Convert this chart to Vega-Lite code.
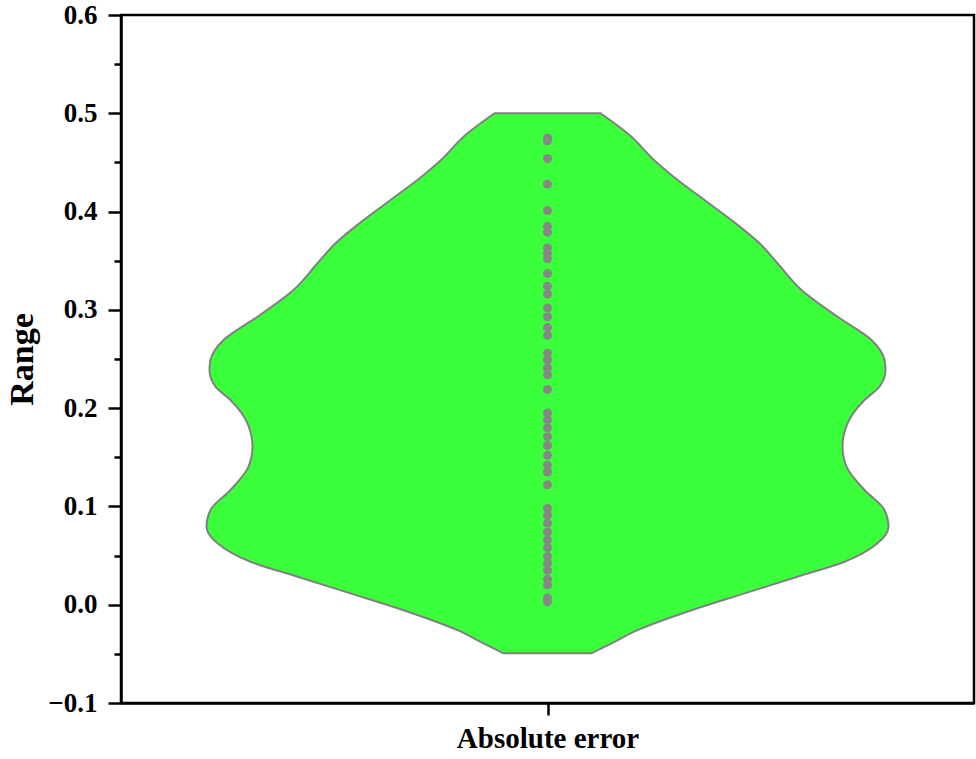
{
  "$schema": "https://vega.github.io/schema/vega-lite/v6.json",
  "width": 853,
  "height": 688,
  "autosize": "none",
  "padding": {"left": 121, "top": 15, "right": 2, "bottom": 56},
  "background": "white",
  "config": {
    "font": "Liberation Serif",
    "view": {"stroke": "black", "strokeWidth": 2.5}
  },
  "datasets": {
    "violin": [
      {"range": -0.0495, "lo": -44, "hi": 44},
      {"range": -0.0393, "lo": -64, "hi": 64},
      {"range": -0.0259, "lo": -90, "hi": 90},
      {"range": -0.0056, "lo": -144, "hi": 144},
      {"range": 0.0115, "lo": -197, "hi": 197},
      {"range": 0.0285, "lo": -250, "hi": 250},
      {"range": 0.0437, "lo": -297, "hi": 297},
      {"range": 0.0625, "lo": -330, "hi": 330},
      {"range": 0.0794, "lo": -341, "hi": 341},
      {"range": 0.0964, "lo": -337, "hi": 337},
      {"range": 0.1167, "lo": -317, "hi": 317},
      {"range": 0.1405, "lo": -299, "hi": 299},
      {"range": 0.1608, "lo": -295, "hi": 295},
      {"range": 0.1846, "lo": -300, "hi": 300},
      {"range": 0.2083, "lo": -317, "hi": 317},
      {"range": 0.2218, "lo": -332, "hi": 332},
      {"range": 0.2388, "lo": -338, "hi": 338},
      {"range": 0.249, "lo": -337, "hi": 337},
      {"range": 0.2693, "lo": -324, "hi": 324},
      {"range": 0.293, "lo": -290, "hi": 290},
      {"range": 0.3202, "lo": -254, "hi": 254},
      {"range": 0.3474, "lo": -230, "hi": 230},
      {"range": 0.3677, "lo": -212, "hi": 212},
      {"range": 0.3881, "lo": -188, "hi": 188},
      {"range": 0.4118, "lo": -157, "hi": 157},
      {"range": 0.4355, "lo": -126, "hi": 126},
      {"range": 0.4491, "lo": -110, "hi": 110},
      {"range": 0.4796, "lo": -80, "hi": 80},
      {"range": 0.5, "lo": -53, "hi": 53}
    ],
    "points": [
      {"error": 0.475}, {"error": 0.472}, {"error": 0.454}, {"error": 0.428},
      {"error": 0.401}, {"error": 0.385}, {"error": 0.379}, {"error": 0.363},
      {"error": 0.358}, {"error": 0.352}, {"error": 0.337}, {"error": 0.324},
      {"error": 0.316}, {"error": 0.302}, {"error": 0.293}, {"error": 0.282},
      {"error": 0.274}, {"error": 0.256}, {"error": 0.249}, {"error": 0.241},
      {"error": 0.234}, {"error": 0.219}, {"error": 0.195}, {"error": 0.188},
      {"error": 0.18}, {"error": 0.171}, {"error": 0.162}, {"error": 0.152},
      {"error": 0.142}, {"error": 0.135}, {"error": 0.122}, {"error": 0.098},
      {"error": 0.091}, {"error": 0.083}, {"error": 0.074}, {"error": 0.066},
      {"error": 0.058}, {"error": 0.049}, {"error": 0.042}, {"error": 0.035},
      {"error": 0.026}, {"error": 0.02}, {"error": 0.007}, {"error": 0.003}
    ]
  },
  "layer": [
    {
      "data": {"name": "violin"},
      "mark": {
        "type": "area",
        "orient": "horizontal",
        "interpolate": "monotone",
        "fill": "#3aff3a",
        "fillOpacity": 1,
        "stroke": "#808080",
        "strokeWidth": 2
      },
      "encoding": {
        "y": {
          "field": "range",
          "type": "quantitative",
          "scale": {"domain": [-0.1, 0.6], "nice": false, "zero": false},
          "axis": {
            "title": "Range",
            "values": [-0.1, -0.05, 0, 0.05, 0.1, 0.15, 0.2, 0.25, 0.3, 0.35, 0.4, 0.45, 0.5, 0.55, 0.6],
            "format": ".1f",
            "labelExpr": "round(datum.value * 20) % 2 == 0 ? datum.label : ''",
            "tickSize": {"condition": {"test": "round(datum.value * 20) % 2 == 0", "value": 13}, "value": 7},
            "tickWidth": 2.5,
            "tickColor": "black",
            "domainColor": "black",
            "domainWidth": 2.5,
            "grid": false,
            "labelPadding": 11,
            "labelFont": "Liberation Serif",
            "labelFontWeight": "bold",
            "labelFontSize": 27,
            "labelColor": "black",
            "titleFont": "Liberation Serif",
            "titleFontWeight": "bold",
            "titleFontSize": 34,
            "titleColor": "black",
            "titlePadding": 8
          }
        },
        "x": {
          "field": "lo",
          "type": "quantitative",
          "scale": {"domain": [-426.5, 426.5], "nice": false, "zero": false},
          "axis": {
            "title": "Absolute error",
            "values": [0],
            "labels": false,
            "tickSize": 12,
            "tickWidth": 2.5,
            "tickColor": "black",
            "domainColor": "black",
            "domainWidth": 2.5,
            "grid": false,
            "titleFont": "Liberation Serif",
            "titleFontWeight": "bold",
            "titleFontSize": 29,
            "titleColor": "black",
            "titlePadding": 8
          }
        },
        "x2": {"field": "hi"}
      }
    },
    {
      "data": {"name": "points"},
      "mark": {"type": "circle", "size": 80, "color": "#878787", "opacity": 1},
      "encoding": {
        "x": {"datum": 0, "type": "quantitative"},
        "y": {"field": "error", "type": "quantitative"}
      }
    }
  ]
}
